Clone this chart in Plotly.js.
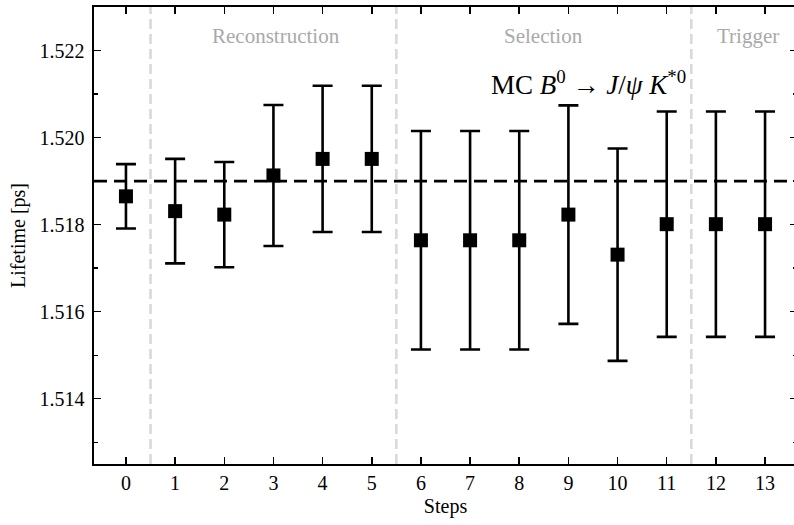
<!DOCTYPE html>
<html>
<head>
<meta charset="utf-8">
<script src="https://cdn.plot.ly/plotly-3.0.1.min.js"></script>
<style>html,body{margin:0;padding:0;overflow:hidden;background:#fff;}#chart{width:800px;height:525px;}</style>
</head>
<body>
<div id="chart"></div>
<script>
// ---- data ----
const steps = [0, 1, 2, 3, 4, 5, 6, 7, 8, 9, 10, 11, 12, 13];
const lifetimes = [1.51865, 1.51831, 1.51823, 1.51913, 1.51951, 1.51951, 1.51764, 1.51764, 1.51764, 1.51823, 1.51731, 1.51801, 1.51801, 1.51801];
const errors = [0.00074, 0.00120, 0.00121, 0.00162, 0.00168, 0.00168, 0.00251, 0.00251, 0.00251, 0.00251, 0.00244, 0.00259, 0.00259, 0.00259];
const referenceLifetime = 1.519;
const sectionBoundaries = [0.5, 5.5, 11.5];
const sectionLabels = ["Reconstruction", "Selection", "Trigger"];
const sectionLabelX = [3.05, 8.5, 12.65];
const xTickVals = steps;
const xTickText = steps.map(String);
const yTickVals = [1.514, 1.516, 1.518, 1.520, 1.522];
const yTickText = ["1.514", "1.516", "1.518", "1.520", "1.522"];
const sampleLabel = "MC <i>B</i><sup>0</sup> → <i>J</i>/<i>ψ</i> <i>K</i><sup>*0</sup>";

const FONT = "'Liberation Serif', 'DejaVu Serif', serif";

const trace = {
  x: steps,
  y: lifetimes,
  type: 'scatter',
  mode: 'markers',
  marker: {symbol: 'square', size: 14, color: 'black'},
  error_y: {type: 'data', array: errors, visible: true, color: 'black', thickness: 2.6, width: 10},
  showlegend: false,
  hoverinfo: 'x+y'
};

const shapes = sectionBoundaries.map(b => ({
  type: 'line', xref: 'x', yref: 'paper', x0: b, x1: b, y0: 0, y1: 1,
  line: {color: '#d9d9d9', width: 2.6, dash: '10px,5px'}, layer: 'below'
}));
shapes.push({
  type: 'line', xref: 'paper', yref: 'y', x0: 0, x1: 1, y0: referenceLifetime, y1: referenceLifetime,
  line: {color: 'black', width: 2.6, dash: '13px,7px'}, layer: 'below'
});

const annotations = sectionLabels.map((t, i) => ({
  text: t, x: sectionLabelX[i], xref: 'x', y: 1.52234, yref: 'y',
  showarrow: false, xanchor: 'center', yanchor: 'middle',
  font: {family: FONT, size: 21, color: '#a9a9a9'}
}));
annotations.push({
  text: sampleLabel, x: 11.43, xref: 'x', y: 1.52126, yref: 'y',
  showarrow: false, xanchor: 'right', yanchor: 'middle',
  font: {family: FONT, size: 27, color: 'black'}
});

const axisCommon = {
  showgrid: false, zeroline: false, showline: true, linecolor: 'black', linewidth: 1.6,
  mirror: 'ticks', ticks: 'inside', ticklen: 7, tickwidth: 1.5, tickcolor: 'black',
  tickfont: {family: FONT, size: 20, color: 'black'}
};

const layout = {
  width: 800, height: 525,
  margin: {l: 94, r: 3, t: 7, b: 61},
  paper_bgcolor: 'white', plot_bgcolor: 'white',
  font: {family: FONT, color: 'black'},
  xaxis: Object.assign({}, axisCommon, {
    range: [-0.65, 13.65], tickmode: 'array', tickvals: xTickVals, ticktext: xTickText,
    ticklabelstandoff: 0,
    title: {text: 'Steps', font: {family: FONT, size: 20, color: 'black'}, standoff: 6}
  }),
  yaxis: Object.assign({}, axisCommon, {
    range: [1.5125, 1.523], tickmode: 'array', tickvals: yTickVals, ticktext: yTickText,
    ticklabelstandoff: 4,
    minor: {dtick: 0.001, tick0: 1.513, ticks: 'inside', ticklen: 4, tickwidth: 1.3, tickcolor: 'black', showgrid: false},
    title: {text: 'Lifetime [ps]', font: {family: FONT, size: 20, color: 'black'}, standoff: 8}
  }),
  shapes: shapes,
  annotations: annotations
};

Plotly.newPlot('chart', [trace], layout, {displayModeBar: false, staticPlot: true});
</script>
</body>
</html>
